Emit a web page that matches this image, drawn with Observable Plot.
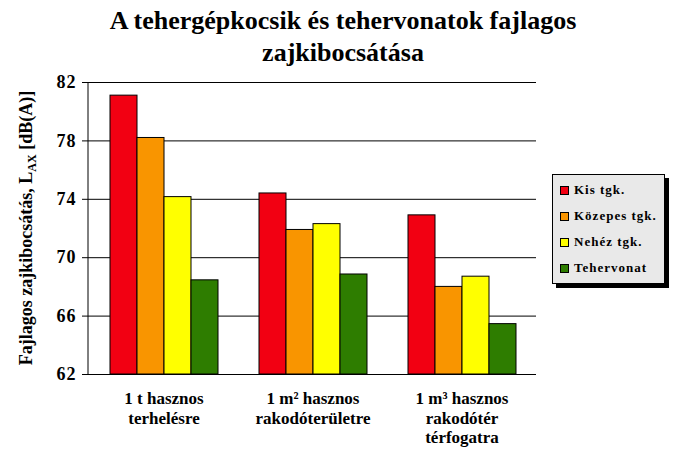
<!DOCTYPE html>
<html>
<head>
<meta charset="utf-8">
<script src="https://cdn.jsdelivr.net/npm/d3@7"></script>
<script src="https://cdn.jsdelivr.net/npm/@observablehq/plot@0.6"></script>
<style>
  html, body { margin: 0; padding: 0; background: #fff; }
  #wrap { position: relative; width: 676px; height: 456px; overflow: hidden; font-family: "Liberation Serif", "Times New Roman", serif; }
  #title { height: 72px; box-sizing: border-box; padding-top: 5px; padding-left: 10px; text-align: center; font-size: 26px; font-weight: bold; line-height: 32px; color: #000; white-space: nowrap; }
  #legend { position: absolute; left: 552px; top: 174px; width: 111px; height: 106px; border: 1px solid #000; background: #e9e9e9; box-shadow: 4px 4px 0 #000; box-sizing: content-box; padding-top: 2px; }
  .item { height: 26px; display: flex; align-items: center; padding-left: 7px; font-family: "Liberation Serif", "Times New Roman", serif; font-size: 13px; font-weight: bold; letter-spacing: 1px; color: #000; white-space: nowrap; }
  .sw { width: 7px; height: 7px; border: 1px solid #000; margin-right: 5px; flex: none; }
  svg { display: block; }
  #chart svg text { font-family: "Liberation Serif", "Times New Roman", serif; }
  #chart svg g[aria-label="y-axis tick label"] text { letter-spacing: 1px; }
</style>
</head>
<body>
<div id="wrap">
  <div id="title">A tehergépkocsik és tehervonatok fajlagos<br>zajkibocsátása</div>
  <div id="chart"></div>
  <div id="legend"></div>
</div>
<script>
// ---- data ----
const categories = ["1 t hasznos\nterhelésre", "1 m² hasznos\nrakodóterületre", "1 m³ hasznos\nrakodótér\ntérfogatra"];
const series = ["Kis tgk.", "Közepes tgk.", "Nehéz tgk.", "Tehervonat"];
const colors = ["#f20012", "#f99500", "#ffff00", "#2e7d00"];
const kisTgk = [81.1, 74.4, 72.9];
const kozepesTgk = [78.2, 71.9, 68.0];
const nehezTgk = [74.15, 72.3, 68.7];
const tehervonat = [68.45, 68.85, 65.45];
const yTicks = [62, 66, 70, 74, 78, 82];
const yLabel = ["Fajlagos zajkibocsátás, L", "AX", " [dB(A)]"];

const seriesValues = [kisTgk, kozepesTgk, nehezTgk, tehervonat];
const rows = [];
categories.forEach((c, ci) => series.forEach((s, si) => rows.push({cat: c, series: s, value: seriesValues[si][ci]})));
const yMin = yTicks[0], yMax = yTicks[yTicks.length - 1];

const font = '"Liberation Serif", "Times New Roman", serif';
const marginLeft = 88;

const plot = Plot.plot({
  width: 676,
  height: 384,
  marginTop: 10,
  marginBottom: 82,
  marginLeft: marginLeft,
  marginRight: 139,
  style: {fontFamily: font, background: "transparent", color: "#000", overflow: "visible"},
  fx: {domain: categories, paddingInner: 0, paddingOuter: 0, padding: 0},
  x: {domain: series, paddingInner: 0, paddingOuter: 0.745, axis: null},
  y: {domain: [yMin, yMax], ticks: yTicks},
  color: {domain: series, range: colors},
  marks: [
    Plot.ruleY(yTicks, {stroke: "#000", strokeWidth: 1}),
    Plot.barY(rows, {fx: "cat", x: "series", y1: () => yMin, y2: "value", fill: "series", stroke: "#000", strokeWidth: 1}),
    Plot.axisY({ticks: yTicks, tickSize: 7, tickPadding: 6, fontSize: 18, fontWeight: "bold", fontFamily: font, label: null, tickFormat: d => String(d)}),
    Plot.axisFx({anchor: "bottom", tickSize: 0, tickPadding: 16, fontSize: 17, fontWeight: "bold", fontFamily: font, lineHeight: 1.15, label: null})
  ]
});
document.getElementById("chart").appendChild(plot);

// left axis line + y-axis title with subscript
const ys = plot.scale("y");
const svg = d3.select(plot);
svg.append("line")
  .attr("x1", marginLeft).attr("x2", marginLeft)
  .attr("y1", ys.apply(yMin)).attr("y2", ys.apply(yMax))
  .attr("stroke", "#000").attr("stroke-width", 1);
const yMid = (ys.apply(yMin) + ys.apply(yMax)) / 2;
const t = svg.append("text")
  .attr("transform", `translate(32,${yMid}) rotate(-90)`)
  .attr("text-anchor", "middle")
  .attr("font-family", font).attr("font-size", 18).attr("font-weight", "bold").attr("fill", "#000");
t.append("tspan").text(yLabel[0]);
t.append("tspan").attr("dy", 4).attr("font-size", 12).text(yLabel[1]);
t.append("tspan").attr("dy", -4).text(yLabel[2]);

// legend
const leg = d3.select("#legend");
series.forEach((s, i) => {
  const it = leg.append("div").attr("class", "item");
  it.append("div").attr("class", "sw").style("background", colors[i]);
  it.append("span").text(s);
});
</script>
</body>
</html>
